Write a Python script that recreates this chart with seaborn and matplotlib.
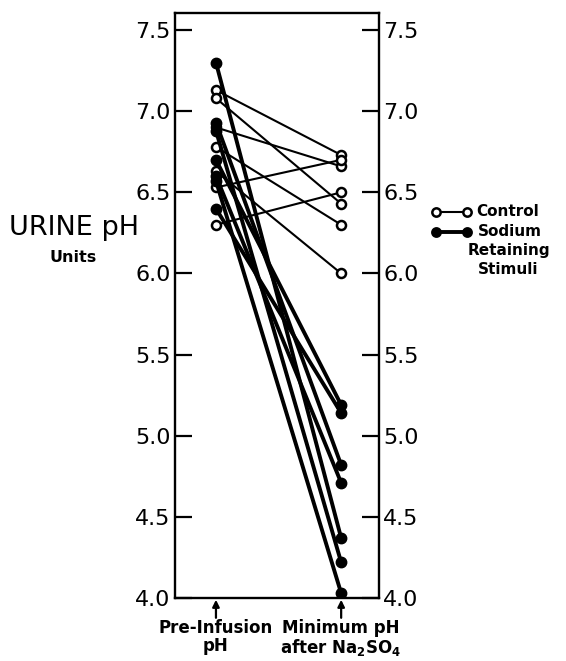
import matplotlib
matplotlib.use("Agg")
import matplotlib.pyplot as plt
import seaborn as sns
import pandas as pd
from matplotlib.lines import Line2D

sns.set_style("ticks", rc={"text.color": "black", "xtick.color": "black",
                           "ytick.color": "black", "axes.labelcolor": "black",
                           "axes.edgecolor": "black"})
plt.rcParams['font.family'] = ['DejaVu Sans']

# Data
stages = ["Pre-Infusion\npH", "Minimum pH\nafter Na$_\\mathbf{2}$SO$_\\mathbf{4}$"]
control_pre = [7.13, 7.08, 6.90, 6.78, 6.63, 6.53, 6.30]
control_min = [6.73, 6.43, 6.66, 6.30, 6.00, 6.70, 6.50]
sodium_pre = [7.30, 6.93, 6.88, 6.70, 6.60, 6.57, 6.40]
sodium_min = [4.37, 4.82, 4.22, 5.19, 4.71, 4.03, 5.14]
yticks = [4.0, 4.5, 5.0, 5.5, 6.0, 6.5, 7.0, 7.5]

rows = []
for i, (a, b) in enumerate(zip(control_pre, control_min)):
    rows += [("Control", f"c{i}", 0, a), ("Control", f"c{i}", 1, b)]
for i, (a, b) in enumerate(zip(sodium_pre, sodium_min)):
    rows += [("Sodium", f"s{i}", 0, a), ("Sodium", f"s{i}", 1, b)]
df = pd.DataFrame(rows, columns=["group", "subj", "pos", "pH"])

fig = plt.figure(figsize=(5.66, 6.61), dpi=100)
ax = fig.add_axes([0.309, 0.0953, 0.361, 0.885])

sns.lineplot(data=df[df.group == "Control"], x="pos", y="pH", units="subj",
             estimator=None, color="black", linewidth=1.5, marker="o",
             markersize=6.5, markerfacecolor="white", markeredgecolor="black",
             markeredgewidth=1.8, ax=ax, legend=False, zorder=3)
sns.lineplot(data=df[df.group == "Sodium"], x="pos", y="pH", units="subj",
             estimator=None, color="black", linewidth=2.8, marker="o",
             markersize=7.5, markerfacecolor="black", markeredgecolor="black",
             markeredgewidth=1.0, ax=ax, legend=False, zorder=4)

ax.set_xlim(-0.328, 1.304)
ax.set_ylim(4.0, 7.605)
ax.set_yticks(yticks)
ax.set_yticklabels([f"{v:.1f}" for v in yticks])
ax.set_xticks([0, 1])
ax.set_xticklabels(stages, fontsize=12, fontweight="bold", linespacing=1.0)
ax.tick_params(axis="x", length=0, pad=15)
ax.tick_params(axis="y", direction="in", length=12, width=1.6, labelsize=16,
               right=True, labelright=True, pad=3)
for sp in ax.spines.values():
    sp.set_linewidth(1.7)
ax.set_xlabel("")
ax.set_ylabel("")

# arrows under the two stages
for pos in [0, 1]:
    ax.annotate("", xy=(pos, -0.003), xycoords=("data", "axes fraction"),
                xytext=(0, -13), textcoords="offset points",
                arrowprops=dict(arrowstyle="-|>", color="black", lw=1.6,
                                mutation_scale=10, shrinkA=0, shrinkB=0),
                annotation_clip=False)

fig.text(0.131, 1 - 228 / 661, "URINE pH", fontsize=19.5, ha="center", va="center")
fig.text(0.13, 1 - 257 / 661, "Units", fontsize=11.5, fontweight="bold",
         ha="center", va="center")

# Legend
lx0, lx1 = 436 / 566, 467 / 566
for yy, fc, lw in [(1 - 212 / 661, "white", 1.5), (1 - 232 / 661, "black", 2.8)]:
    fig.add_artist(Line2D([lx0, lx1], [yy, yy], transform=fig.transFigure,
                          color="black", linewidth=lw, marker="o", markersize=6,
                          markerfacecolor=fc, markeredgecolor="black",
                          markeredgewidth=1.8))
fig.text(476 / 566, 1 - 212 / 661, "Control", fontsize=11, fontweight="bold",
         ha="left", va="center")
fig.text(478 / 566, 1 - 232 / 661, "Sodium", fontsize=11, fontweight="bold",
         ha="left", va="center")
fig.text(509 / 566, 1 - 251 / 661, "Retaining", fontsize=11, fontweight="bold",
         ha="center", va="center")
fig.text(508 / 566, 1 - 269 / 661, "Stimuli", fontsize=11, fontweight="bold",
         ha="center", va="center")

fig.savefig("out.png", dpi=100)
